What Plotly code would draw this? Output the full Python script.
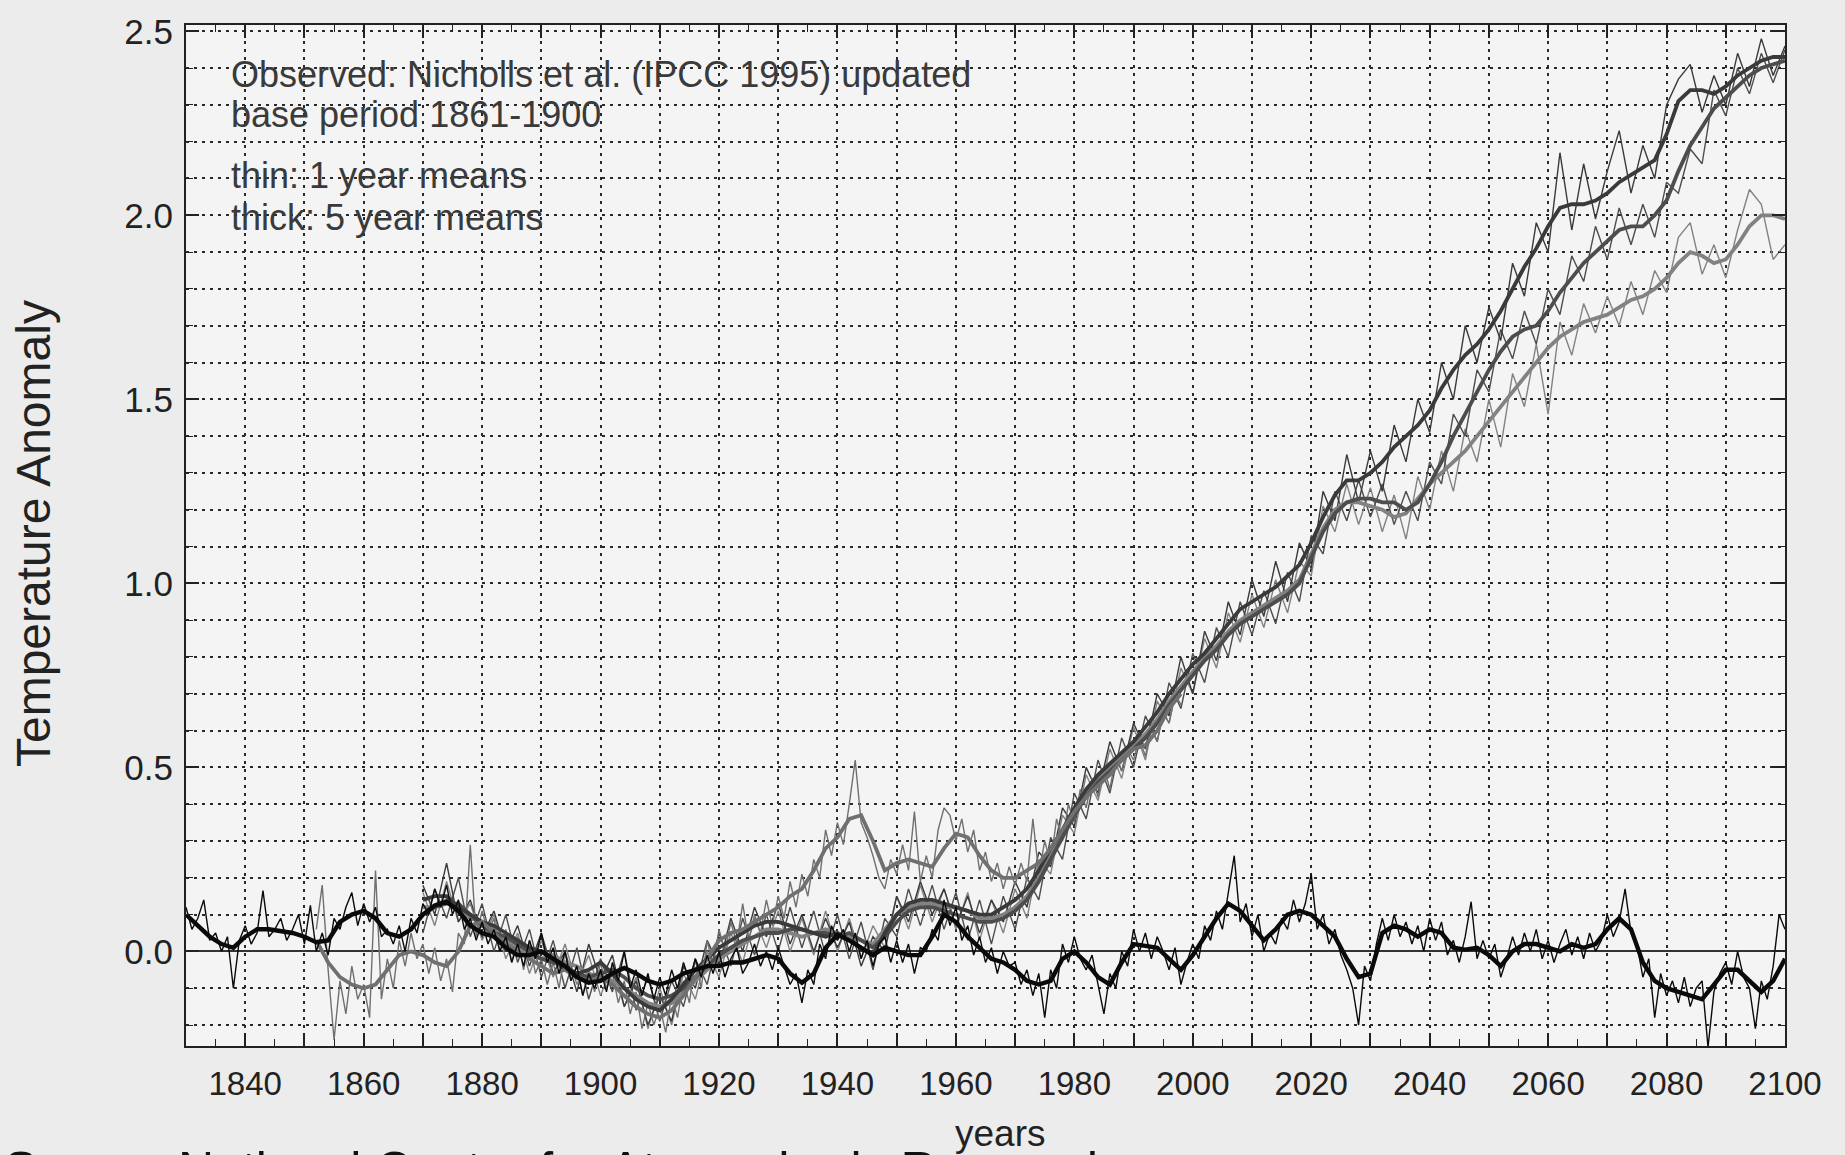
import plotly.graph_objects as go

# ---------------- data ----------------
ctrl_thin_years = list(range(1830, 2101))
ctrl_thin = [
    0.12, 0.06, 0.09, 0.14, 0.03, 0.05, 0.0, 0.04, -0.10, 0.03,
    0.07, 0.02, 0.05, 0.165, 0.04, 0.06, 0.09, 0.03, 0.06, 0.10,
    0.02, 0.125, 0.0, 0.05, -0.01, 0.09, 0.06, 0.12, 0.16, 0.07,
    0.13, 0.08, 0.12, 0.04, 0.06, 0.02, 0.07, 0.0, 0.09, 0.05,
    0.13, 0.10, 0.17, 0.12, 0.18, 0.10, 0.14, 0.06, 0.09, 0.03,
    0.08, 0.02, 0.06, 0.0, 0.04, -0.03, 0.02, -0.04, 0.03, -0.02,
    0.05, -0.03, 0.01, -0.06, 0.0, -0.08, -0.04, -0.12, -0.06, -0.10,
    -0.05, -0.11, -0.03, -0.08, 0.0, -0.10, -0.05, -0.12, -0.06, -0.13,
    -0.07, -0.12, -0.05, -0.10, -0.03, -0.08, -0.02, -0.07, -0.01, -0.06,
    0.0, -0.07, -0.02, 0.01, -0.06, -0.03, 0.02, -0.04, 0.0, -0.05,
    0.01, -0.04, -0.09, -0.06, -0.14, -0.05, -0.09, 0.02, -0.02, 0.07,
    0.03, 0.06, 0.0, 0.05, -0.02, 0.03, -0.04, 0.02, 0.04, -0.03,
    0.03, -0.03, 0.02, -0.06, 0.01, 0.0, 0.06, 0.03, 0.14, 0.07,
    0.12, 0.03, 0.07, -0.01, 0.04, -0.03, 0.01, -0.06, 0.0, -0.04,
    -0.03, -0.09, -0.05, -0.12, -0.06, -0.18, -0.05, -0.10, 0.02, -0.03,
    0.04, -0.02, -0.05, -0.01, -0.09, -0.17, -0.06, -0.10, 0.0, -0.04,
    0.06, 0.0, 0.05, -0.02, 0.04, 0.0, -0.05, 0.01, -0.09, -0.03,
    0.02, -0.02, 0.07, 0.03, 0.11, 0.06, 0.16, 0.26, 0.08, 0.13,
    0.04, 0.10, 0.0, 0.05, 0.02, 0.09, 0.06, 0.14, 0.08, 0.13,
    0.21, 0.06, 0.10, 0.02, 0.06, -0.01, -0.05, -0.10, -0.20, -0.04,
    -0.08, 0.02, 0.09, 0.03, 0.10, 0.04, 0.08, 0.02, 0.07, 0.0,
    0.09, 0.03, 0.08, -0.01, 0.03, -0.03, 0.04, 0.135, -0.02, 0.03,
    -0.02, 0.02, -0.07, -0.02, 0.04, -0.01, 0.05, 0.0, 0.06, -0.02,
    0.03, -0.03, 0.02, 0.06, -0.01, 0.04, -0.02, 0.05, 0.0, 0.03,
    0.10, 0.04, 0.08, 0.17, 0.05, 0.02, -0.07, -0.02, -0.18, -0.06,
    -0.12, -0.08, -0.14, -0.07, -0.15, -0.10, -0.08, -0.26, -0.11, -0.06,
    -0.03, -0.09, 0.0, -0.07, -0.10, -0.21, -0.08, -0.13, -0.04, 0.10,
    0.06,
]

ctrl_thick_years = list(range(1830, 2101, 2))
ctrl_thick = [
    0.10, 0.07, 0.04, 0.02, 0.01, 0.04, 0.06, 0.06, 0.055, 0.05,
    0.04, 0.025, 0.03, 0.08, 0.10, 0.11, 0.09, 0.05, 0.04, 0.06,
    0.10, 0.125, 0.135, 0.11, 0.07, 0.05, 0.04, 0.01, -0.01, -0.01,
    0.0, -0.02, -0.04, -0.07, -0.085, -0.08, -0.06, -0.045, -0.06, -0.08,
    -0.09, -0.08, -0.06, -0.05, -0.04, -0.04, -0.03, -0.03, -0.02, -0.01,
    -0.02, -0.06, -0.085, -0.06, 0.01, 0.045, 0.03, 0.01, -0.01, 0.01,
    0.0, -0.01, -0.01, 0.04, 0.10, 0.08, 0.04, 0.01, -0.02, -0.03,
    -0.05, -0.08, -0.09, -0.08, -0.02, 0.0, -0.03, -0.07, -0.09, -0.03,
    0.02, 0.015, 0.01, -0.02, -0.05, -0.01, 0.04, 0.09, 0.13, 0.11,
    0.07, 0.03, 0.06, 0.10, 0.11, 0.10, 0.07, 0.04, -0.02, -0.07,
    -0.06, 0.05, 0.07, 0.06, 0.04, 0.06, 0.05, 0.01, 0.005, 0.01,
    -0.01, -0.04, 0.0, 0.02, 0.02, 0.01, 0.0, 0.02, 0.01, 0.02,
    0.06, 0.09, 0.06, -0.03, -0.08, -0.10, -0.11, -0.12, -0.13, -0.09,
    -0.05, -0.05, -0.08, -0.11, -0.08, -0.02,
]

obs_thin_years = list(range(1852, 1999))
obs_thin = [
    0.06, 0.18, -0.05, -0.24, -0.08, -0.17, -0.04, -0.13,
    -0.09, -0.18, 0.22, -0.13, -0.02, -0.10, 0.03, -0.04, 0.05, -0.02,
    0.02, -0.06, 0.01, -0.08, -0.02, -0.11, 0.05, 0.02, 0.29, 0.04,
    0.11, 0.05, 0.09, 0.0, 0.06, -0.03, 0.04, -0.05, 0.03, -0.06,
    -0.02, -0.09, -0.03, -0.10, 0.0, -0.08, -0.04, -0.12, -0.05, -0.11,
    -0.03, -0.10, -0.06, -0.14, -0.08, -0.17, -0.11, -0.21, -0.14, -0.20,
    -0.15, -0.22, -0.12, -0.18, -0.08, -0.14, -0.02, -0.10, 0.03, -0.04,
    0.06, 0.0, 0.08, 0.02, 0.13, 0.03, 0.10, 0.05, 0.14, 0.07,
    0.15, 0.09, 0.19, 0.12, 0.21, 0.15, 0.25, 0.20, 0.33, 0.26,
    0.35, 0.29, 0.40, 0.52, 0.35, 0.31, 0.26, 0.20, 0.17, 0.25,
    0.21, 0.29, 0.22, 0.38, 0.19, 0.26, 0.20, 0.33, 0.39, 0.37,
    0.30, 0.36, 0.27, 0.33, 0.22, 0.27, 0.19, 0.24, 0.17, 0.23,
    0.18, 0.24, 0.19, 0.36, 0.21, 0.30, 0.24, 0.36, 0.30, 0.40,
    0.35, 0.44, 0.39, 0.47, 0.42, 0.50, 0.44, 0.53, 0.49, 0.55,
    0.52, 0.58, 0.53, 0.61, 0.57, 0.65, 0.62, 0.70, 0.67,
]

obs_thick_years = list(range(1852, 1999, 2))
obs_thick = [
    0.03, -0.03, -0.07, -0.09, -0.10, -0.09, -0.05, -0.01, 0.0, -0.01,
    -0.03, -0.04, 0.0, 0.07, 0.08, 0.05, 0.02, 0.0, -0.02, -0.04,
    -0.06, -0.05, -0.07, -0.08, -0.07, -0.09, -0.12, -0.15, -0.17, -0.18,
    -0.16, -0.12, -0.07, -0.02, 0.03, 0.05, 0.06, 0.08, 0.10, 0.12,
    0.15, 0.17, 0.22, 0.28, 0.31, 0.36, 0.37, 0.30, 0.22, 0.24,
    0.25, 0.24, 0.23, 0.28, 0.32, 0.31, 0.26, 0.22, 0.20, 0.20,
    0.22, 0.24, 0.28, 0.33, 0.38, 0.42, 0.45, 0.48, 0.52, 0.55,
    0.56, 0.60, 0.66, 0.70,
]

scen_years = list(range(1870, 2101, 2))

run1_thick = [
    0.14, 0.15, 0.15, 0.12, 0.10, 0.08, 0.07, 0.05, 0.03, 0.01,
    0.0, -0.02, -0.05, -0.06, -0.05, -0.03, -0.06, -0.10, -0.13, -0.15,
    -0.16, -0.13, -0.09, -0.05, -0.02, 0.01, 0.03, 0.05, 0.07, 0.08,
    0.08, 0.07, 0.06, 0.05, 0.04, 0.05, 0.03, 0.01, -0.01, 0.05,
    0.10, 0.13, 0.14, 0.14, 0.13, 0.12, 0.11, 0.10, 0.10, 0.12,
    0.14, 0.17, 0.22, 0.28, 0.33, 0.39, 0.44, 0.48, 0.51, 0.54,
    0.57, 0.61, 0.65, 0.70, 0.74, 0.78, 0.81, 0.85, 0.89, 0.93,
    0.95, 0.97, 0.99, 1.02, 1.05, 1.11, 1.18, 1.24, 1.28, 1.28,
    1.30, 1.33, 1.37, 1.40, 1.43, 1.47, 1.53, 1.58, 1.62, 1.65,
    1.69, 1.74, 1.80, 1.86, 1.91, 1.97, 2.02, 2.03, 2.03, 2.04,
    2.06, 2.09, 2.11, 2.13, 2.15, 2.22, 2.31, 2.34, 2.34, 2.33,
    2.35, 2.38, 2.40, 2.42, 2.43, 2.43,
]
run1_thin = [
    0.18, 0.10, 0.24, 0.08, 0.14, 0.04, 0.11, 0.0, 0.07, -0.04,
    0.05, -0.06, 0.0, -0.11, 0.02, -0.08, -0.01, -0.15, -0.08, -0.20,
    -0.12, -0.19, -0.04, -0.10, 0.03, -0.04, 0.09, 0.0, 0.12, 0.04,
    0.13, 0.02, 0.10, 0.0, 0.09, 0.01, 0.08, -0.04, 0.04, 0.0,
    0.15, 0.08, 0.19, 0.10, 0.17, 0.07, 0.15, 0.05, 0.14, 0.08,
    0.19, 0.12, 0.27, 0.23, 0.39, 0.34, 0.50, 0.43, 0.57, 0.49,
    0.62, 0.55, 0.70, 0.64, 0.80, 0.70, 0.87, 0.79, 0.95, 0.86,
    1.01, 0.91, 1.06, 0.95, 1.11, 1.04, 1.25, 1.17, 1.35, 1.22,
    1.36, 1.25, 1.43, 1.33, 1.50, 1.41, 1.60, 1.50, 1.70, 1.60,
    1.75, 1.66, 1.87, 1.78, 1.98, 1.90, 2.17, 1.96, 2.14, 1.99,
    2.12, 2.23, 2.06, 2.19, 2.10, 2.30, 2.37, 2.41, 2.28, 2.38,
    2.30, 2.44, 2.35, 2.48, 2.38, 2.46,
]

run2_thick = [
    0.10, 0.12, 0.13, 0.13, 0.10, 0.07, 0.05, 0.04, 0.02, 0.0,
    -0.02, -0.03, -0.04, -0.06, -0.07, -0.06, -0.05, -0.07, -0.10, -0.12,
    -0.13, -0.12, -0.10, -0.07, -0.04, -0.01, 0.01, 0.03, 0.04, 0.05,
    0.05, 0.06, 0.06, 0.05, 0.05, 0.04, 0.05, 0.03, 0.01, 0.04,
    0.08, 0.11, 0.12, 0.12, 0.11, 0.10, 0.09, 0.08, 0.08, 0.09,
    0.11, 0.14, 0.19, 0.25, 0.31, 0.37, 0.42, 0.46, 0.49, 0.52,
    0.55, 0.58, 0.62, 0.67, 0.71, 0.75, 0.79, 0.82, 0.86, 0.89,
    0.91, 0.93, 0.95, 0.97, 1.00, 1.07, 1.14, 1.19, 1.22, 1.23,
    1.23, 1.22, 1.22, 1.20, 1.22, 1.27, 1.33, 1.40, 1.46, 1.52,
    1.58, 1.63, 1.67, 1.69, 1.70, 1.74, 1.79, 1.83, 1.87, 1.90,
    1.93, 1.96, 1.97, 1.97, 2.00, 2.04, 2.12, 2.19, 2.24, 2.29,
    2.32, 2.35, 2.38, 2.40, 2.41, 2.42,
]
run2_thin = [
    0.05, 0.17, 0.09, 0.20, 0.04, 0.13, 0.0, 0.10, -0.03, 0.06,
    -0.07, 0.03, -0.10, 0.01, -0.13, -0.02, -0.11, 0.0, -0.16, -0.07,
    -0.19, -0.08, -0.15, -0.02, -0.09, 0.05, -0.04, 0.09, -0.01, 0.10,
    0.0, 0.12, 0.01, 0.11, -0.01, 0.10, -0.02, 0.08, -0.05, 0.09,
    0.04, 0.17, 0.07, 0.18, 0.06, 0.16, 0.03, 0.14, 0.02, 0.15,
    0.06, 0.20, 0.14, 0.31, 0.25, 0.43, 0.36, 0.52, 0.43, 0.58,
    0.50, 0.64, 0.57, 0.73, 0.66, 0.81, 0.73, 0.88, 0.80, 0.95,
    0.86, 0.98, 0.89, 1.03, 0.95, 1.13, 1.08, 1.25, 1.17, 1.28,
    1.18, 1.27, 1.16, 1.25, 1.17, 1.33, 1.27, 1.46, 1.40, 1.58,
    1.52, 1.69, 1.61, 1.74, 1.65, 1.80, 1.73, 1.89, 1.82, 1.97,
    1.88, 2.02, 1.92, 2.03, 1.94, 2.09, 2.06, 2.18, 2.14, 2.34,
    2.27, 2.40, 2.33, 2.44, 2.36, 2.45,
]

run3_thick = [
    0.12, 0.12, 0.14, 0.12, 0.09, 0.08, 0.06, 0.03, 0.01, -0.01,
    -0.02, -0.01, -0.03, -0.04, -0.06, -0.07, -0.08, -0.10, -0.12, -0.14,
    -0.15, -0.14, -0.11, -0.08, -0.05, -0.02, 0.0, 0.02, 0.04, 0.06,
    0.06, 0.05, 0.04, 0.05, 0.06, 0.05, 0.04, 0.03, 0.02, 0.06,
    0.10, 0.12, 0.13, 0.13, 0.12, 0.12, 0.11, 0.09, 0.09, 0.10,
    0.12, 0.15, 0.20, 0.26, 0.32, 0.37, 0.43, 0.47, 0.50, 0.53,
    0.56, 0.59, 0.63, 0.68, 0.72, 0.76, 0.80, 0.83, 0.87, 0.90,
    0.92, 0.94, 0.96, 0.98, 1.01, 1.08, 1.15, 1.20, 1.22, 1.22,
    1.21, 1.20, 1.18, 1.19, 1.23, 1.27, 1.30, 1.33, 1.36, 1.40,
    1.44, 1.48, 1.52, 1.56, 1.60, 1.64, 1.67, 1.69, 1.71, 1.72,
    1.73, 1.75, 1.77, 1.78, 1.80, 1.83, 1.87, 1.90, 1.89, 1.87,
    1.88, 1.92, 1.97, 2.00, 2.00, 1.99,
]
run3_thin = [
    0.16, 0.07, 0.19, 0.08, 0.13, 0.03, 0.10, -0.02, 0.05, -0.06,
    0.03, -0.07, 0.02, -0.09, -0.01, -0.12, -0.04, -0.15, -0.07, -0.21,
    -0.10, -0.20, -0.06, -0.13, 0.0, -0.07, 0.05, -0.03, 0.09, 0.01,
    0.11, 0.0, 0.09, -0.01, 0.11, 0.0, 0.09, -0.02, 0.07, 0.01,
    0.15, 0.06, 0.18, 0.08, 0.17, 0.06, 0.16, 0.03, 0.14, 0.05,
    0.17, 0.09, 0.25, 0.21, 0.37, 0.32, 0.48, 0.41, 0.55, 0.47,
    0.61, 0.52, 0.68, 0.62, 0.77, 0.70, 0.85, 0.77, 0.92, 0.84,
    0.97, 0.88, 1.01, 0.92, 1.06, 1.02, 1.21, 1.14, 1.27, 1.16,
    1.26, 1.14, 1.24, 1.12, 1.29, 1.20, 1.36, 1.25, 1.42, 1.33,
    1.50, 1.37, 1.57, 1.48, 1.65, 1.46, 1.71, 1.62, 1.76, 1.68,
    1.78, 1.70, 1.82, 1.73, 1.85, 1.79, 1.94, 1.98, 1.84, 1.92,
    1.83, 1.96, 2.07, 2.03, 1.88, 1.92,
]

x_tick_vals = list(range(1830, 2101, 10))
x_tick_text = ["", "1840", "", "1860", "", "1880", "", "1900", "", "1920", "", "1940", "",
               "1960", "", "1980", "", "2000", "", "2020", "", "2040", "", "2060", "",
               "2080", "", "2100"]
y_tick_vals = [0.0, 0.5, 1.0, 1.5, 2.0, 2.5]
y_tick_text = ["0.0", "0.5", "1.0", "1.5", "2.0", "2.5"]

note_lines = ["Observed: Nicholls et al. (IPCC 1995) updated",
              "base period 1861-1900",
              "thin: 1 year means",
              "thick: 5 year means"]

# ---------------- sanity checks ----------------
pairs = [(ctrl_thin_years, ctrl_thin), (ctrl_thick_years, ctrl_thick),
         (obs_thin_years, obs_thin), (obs_thick_years, obs_thick),
         (scen_years, run1_thick), (scen_years, run1_thin),
         (scen_years, run2_thick), (scen_years, run2_thin),
         (scen_years, run3_thick), (scen_years, run3_thin)]
for i, (a, b) in enumerate(pairs):
    assert len(a) == len(b), (i, len(a), len(b))

# ---------------- layout geometry ----------------
W, H = 1845, 1155
ML, MR, MT, MB = 186, 60, 17, 109
PL, PR, PT, PB = ML, W - MR, MT, H - MB


def px(xp):
    return (xp - PL) / (PR - PL)


def py(yp):
    return (PB - yp) / (PB - PT)


FONT = "Liberation Sans, Arial, Helvetica, sans-serif"

fig = go.Figure()


def add(x, y, color, width):
    fig.add_trace(go.Scatter(x=x, y=y, mode="lines",
                             line=dict(color=color, width=width),
                             showlegend=False, hoverinfo="skip"))


C_OBS, C1, C2, C3, CK = "#707070", "#3a3a3a", "#4d4d4d", "#828282", "#0a0a0a"

add(scen_years, run3_thin, C3, 1.4)
add(scen_years, run2_thin, C2, 1.4)
add(scen_years, run1_thin, C1, 1.4)
add(obs_thin_years, obs_thin, C_OBS, 1.4)
add(scen_years, run3_thick, C3, 3.8)
add(scen_years, run2_thick, C2, 3.8)
add(scen_years, run1_thick, C1, 3.8)
add(obs_thick_years, obs_thick, C_OBS, 3.8)
add(ctrl_thin_years, ctrl_thin, CK, 1.4)
add(ctrl_thick_years, ctrl_thick, CK, 4.4)

GRID = dict(gridcolor="#2a2a2a", gridwidth=1.5, griddash="3px,5px")

fig.update_xaxes(
    range=[1830, 2100], tickmode="array", tickvals=x_tick_vals, ticktext=x_tick_text,
    ticks="inside", ticklen=13, tickwidth=1.6, tickcolor="#222",
    showline=True, linecolor="#222", linewidth=2, mirror="allticks",
    showgrid=True, **GRID, zeroline=False,
    tickfont=dict(family=FONT, size=33, color="#222"), ticklabelstandoff=7,
    minor=dict(dtick=5, tick0=1830, ticks="inside", ticklen=7, tickwidth=1.4,
               tickcolor="#222", showgrid=False),
)
fig.update_yaxes(
    range=[-0.257, 2.517], tickmode="array", tickvals=y_tick_vals, ticktext=y_tick_text,
    ticks="inside", ticklen=13, tickwidth=1.6, tickcolor="#222",
    showline=True, linecolor="#222", linewidth=2, mirror="allticks",
    showgrid=True, **GRID,
    zeroline=True, zerolinecolor="#333", zerolinewidth=1.6,
    tickfont=dict(family=FONT, size=35, color="#222"), ticklabelstandoff=4,
    minor=dict(dtick=0.1, tick0=0, ticks="inside", ticklen=7, tickwidth=1.4,
               tickcolor="#222", showgrid=True, **GRID),
)

ann = []
note_y = [67, 107, 169, 211]
for t, yy in zip(note_lines, note_y):
    ann.append(dict(text=t, x=px(229), y=py(yy), xref="paper", yref="paper",
                    xanchor="left", yanchor="middle", showarrow=False,
                    font=dict(family=FONT, size=36, color="#3a3a3a")))
ann.append(dict(text="Temperature Anomaly", x=px(33), y=py(530), xref="paper", yref="paper",
                xanchor="center", yanchor="middle", textangle=-90, showarrow=False,
                font=dict(family=FONT, size=48, color="#222")))
ann.append(dict(text="years", x=px(1000), y=py(1134), xref="paper", yref="paper",
                xanchor="center", yanchor="middle", showarrow=False,
                font=dict(family=FONT, size=37, color="#222")))
ann.append(dict(text="Source:", x=px(2), y=py(1141), xref="paper", yref="paper",
                xanchor="left", yanchor="top", showarrow=False,
                font=dict(family=FONT, size=50, color="#111")))
ann.append(dict(text="National Center for Atmospheric Research", x=px(176), y=py(1141),
                xref="paper", yref="paper", xanchor="left", yanchor="top", showarrow=False,
                font=dict(family=FONT, size=50, color="#111")))

fig.update_layout(
    width=W, height=H, autosize=False,
    margin=dict(l=ML, r=MR, t=MT, b=MB, pad=0),
    paper_bgcolor="#ececec", plot_bgcolor="#f4f4f4",
    annotations=ann, showlegend=False,
    font=dict(family=FONT, color="#222"),
)

fig.write_html("out.html")
